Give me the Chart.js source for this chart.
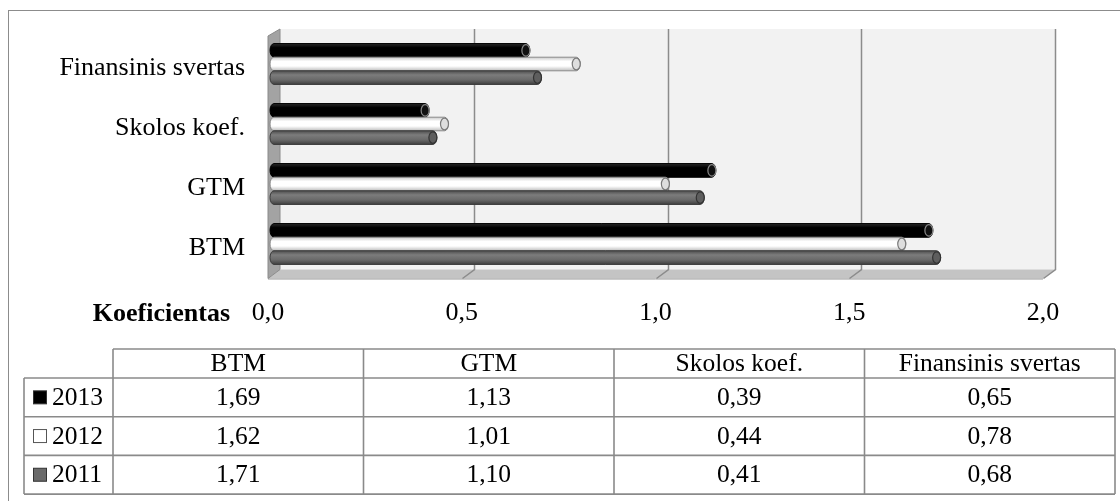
<!DOCTYPE html>
<html>
<head>
<meta charset="utf-8">
<script src="https://cdn.jsdelivr.net/npm/chart.js@4.4.1/dist/chart.umd.min.js"></script>
<style>
  html, body { margin: 0; padding: 0; background: #ffffff; overflow: hidden; }
  canvas { display: block; }
</style>
</head>
<body>
<canvas id="chart" width="1120" height="501"></canvas>
<script>
// Categories (table column order) and yearly series
const categories = ['BTM', 'GTM', 'Skolos koef.', 'Finansinis svertas'];
const years = ['2013', '2012', '2011'];
const values2013 = [1.69, 1.13, 0.39, 0.65];
const values2012 = [1.62, 1.01, 0.44, 0.78];
const values2011 = [1.71, 1.10, 0.41, 0.68];
const xTicks = [0, 0.5, 1.0, 1.5, 2.0];
const axisTitle = 'Koeficientas';

const FONT = '"Liberation Serif", "Times New Roman", serif';
const fmtValue = v => v.toFixed(2).replace('.', ',');
const fmtTick = v => v.toFixed(1).replace('.', ',');

// Cylinder shading per series: black, white, grey
const seriesStyle = [
  { base: '#000000', stops: ['#2a2a2a', '#000000', '#000000', '#000000'], edge: '#000000', cap: '#111111', capEdge: '#8a8a8a' },
  { base: '#ffffff', stops: ['#c8c8c8', '#ffffff', '#ffffff', '#bdbdbd'], edge: '#8a8a8a', cap: '#dedede', capEdge: '#7a7a7a' },
  { base: '#6a6a6a', stops: ['#4e4e4e', '#7c7c7c', '#6a6a6a', '#404040'], edge: '#3a3a3a', cap: '#5e5e5e', capEdge: '#333333' }
];
const seriesValues = [values2013, values2012, values2011];

// Depth offsets of the pseudo-3D box around the bar plane
const DX = 6, DY = 4.5;

const roomPlugin = {
  id: 'room',
  beforeDatasetsDraw(chart) {
    const { ctx, chartArea } = chart;
    const xs = chart.scales.x;
    const backX = v => xs.getPixelForValue(v) + DX;
    const wallTop = chartArea.top - 5;
    const backBottom = chartArea.bottom - DY;
    const frontBottom = chartArea.bottom + DY;
    const x0 = backX(xTicks[0]);
    const x1 = backX(xTicks[xTicks.length - 1]);
    ctx.save();
    // back wall
    ctx.fillStyle = '#f2f2f2';
    ctx.fillRect(x0, wallTop, x1 - x0, backBottom - wallTop);
    // floor
    ctx.beginPath();
    ctx.moveTo(x0 - 2 * DX, frontBottom);
    ctx.lineTo(x0, backBottom);
    ctx.lineTo(x1, backBottom);
    ctx.lineTo(x1 - 2 * DX, frontBottom);
    ctx.closePath();
    ctx.fillStyle = '#c4c4c4';
    ctx.fill();
    ctx.strokeStyle = '#9a9a9a';
    ctx.lineWidth = 1;
    ctx.beginPath();
    ctx.moveTo(x0 - 2 * DX, frontBottom + 0.5);
    ctx.lineTo(x1 - 2 * DX, frontBottom + 0.5);
    ctx.stroke();
    // gridlines on back wall and floor
    ctx.strokeStyle = '#8c8c8c';
    ctx.lineWidth = 1.5;
    xTicks.slice(1).forEach(v => {
      const gx = Math.round(backX(v)) + 0.5;
      ctx.beginPath();
      ctx.moveTo(gx, wallTop);
      ctx.lineTo(gx, backBottom);
      ctx.lineTo(gx - 2 * DX, frontBottom);
      ctx.stroke();
    });
    // left side wall
    ctx.beginPath();
    ctx.moveTo(x0 - 2 * DX, wallTop + 2 * DY - 2);
    ctx.lineTo(x0, wallTop);
    ctx.lineTo(x0, backBottom);
    ctx.lineTo(x0 - 2 * DX, frontBottom);
    ctx.closePath();
    ctx.fillStyle = '#a3a3a3';
    ctx.fill();
    ctx.strokeStyle = '#8a8a8a';
    ctx.lineWidth = 1;
    ctx.stroke();
    ctx.restore();
  },
  afterDatasetsDraw(chart) {
    const { ctx } = chart;
    ctx.save();
    chart.data.datasets.forEach((ds, di) => {
      const s = seriesStyle[di];
      chart.getDatasetMeta(di).data.forEach(el => {
        const { x, y, base, height } = el.getProps(['x', 'y', 'base', 'height'], true);
        const r = height / 2;
        const rx = 4;
        const g = ctx.createLinearGradient(0, y - r, 0, y + r);
        g.addColorStop(0, s.stops[0]);
        g.addColorStop(0.3, s.stops[1]);
        g.addColorStop(0.65, s.stops[2]);
        g.addColorStop(1, s.stops[3]);
        ctx.beginPath();
        ctx.moveTo(base, y - r);
        ctx.lineTo(x, y - r);
        ctx.ellipse(x, y, rx, r, 0, -Math.PI / 2, Math.PI / 2);
        ctx.lineTo(base, y + r);
        ctx.ellipse(base, y, rx, r, 0, Math.PI / 2, Math.PI * 1.5);
        ctx.closePath();
        ctx.fillStyle = g;
        ctx.fill();
        ctx.strokeStyle = s.edge;
        ctx.lineWidth = 1;
        ctx.stroke();
        // end cap
        ctx.beginPath();
        ctx.ellipse(x, y, rx, r - 1, 0, 0, Math.PI * 2);
        ctx.fillStyle = s.cap;
        ctx.fill();
        ctx.strokeStyle = s.capEdge;
        ctx.lineWidth = 1.2;
        ctx.stroke();
      });
    });
    ctx.restore();
  }
};

const tablePlugin = {
  id: 'dataTable',
  afterDraw(chart) {
    const { ctx } = chart;
    const xs = chart.scales.x;
    ctx.save();
    // outer frame
    ctx.strokeStyle = '#8c8c8c';
    ctx.lineWidth = 1;
    ctx.strokeRect(8.5, 10.5, 1200, 600);

    // axis title next to the first tick label
    ctx.fillStyle = '#000000';
    ctx.font = 'bold 26px ' + FONT;
    ctx.textAlign = 'right';
    ctx.textBaseline = 'middle';
    ctx.fillText(axisTitle, xs.getPixelForValue(0) - 44, 314);

    // data table
    const left = 24, keyCol = 113, right = 1115;
    const headTop = 349, headBottom = 378, rowH = 38.7;
    const colW = (right - keyCol) / categories.length;
    const bottom = headBottom + rowH * years.length;
    ctx.strokeStyle = '#8a8a8a';
    ctx.lineWidth = 1.6;
    ctx.beginPath();
    ctx.moveTo(keyCol, headTop); ctx.lineTo(right, headTop);
    for (let r = 0; r <= years.length; r++) {
      const yy = headBottom + rowH * r;
      ctx.moveTo(left, yy); ctx.lineTo(right, yy);
    }
    ctx.moveTo(left, headBottom); ctx.lineTo(left, bottom);
    for (let c = 0; c <= categories.length; c++) {
      const xx = keyCol + colW * c;
      ctx.moveTo(xx, headTop); ctx.lineTo(xx, bottom);
    }
    ctx.stroke();

    ctx.font = '25.5px ' + FONT;
    ctx.textAlign = 'center';
    ctx.textBaseline = 'middle';
    ctx.fillStyle = '#000000';
    categories.forEach((c, i) => {
      ctx.fillText(c, keyCol + colW * (i + 0.5), (headTop + headBottom) / 2 + 1);
    });
    years.forEach((yr, r) => {
      const cy = headBottom + rowH * (r + 0.5) + 1;
      const s = seriesStyle[r];
      // legend key
      ctx.fillStyle = s.base;
      ctx.fillRect(33.5, cy - 7.5, 13, 13);
      ctx.strokeStyle = r === 1 ? '#555555' : '#333333';
      ctx.lineWidth = 1;
      ctx.strokeRect(33.5, cy - 7.5, 13, 13);
      ctx.fillStyle = '#000000';
      ctx.textAlign = 'left';
      ctx.fillText(yr, 52, cy);
      ctx.textAlign = 'center';
      seriesValues[r].forEach((v, i) => {
        ctx.fillText(fmtValue(v), keyCol + colW * (i + 0.5), cy);
      });
    });
    ctx.restore();
  }
};

new Chart(document.getElementById('chart'), {
  type: 'bar',
  data: {
    labels: categories,
    datasets: years.map((yr, i) => ({
      label: yr,
      data: seriesValues[i],
      backgroundColor: seriesStyle[i].base,
      borderWidth: 0,
      categoryPercentage: 0.68,
      barPercentage: 1.0
    }))
  },
  options: {
    indexAxis: 'y',
    responsive: false,
    animation: false,
    events: [],
    layout: { padding: { top: 34, right: 71, bottom: 0, left: 0 } },
    plugins: { legend: { display: false }, tooltip: { enabled: false } },
    scales: {
      x: {
        position: 'bottom',
        min: 0,
        max: 2,
        afterBuildTicks: scale => { scale.ticks = xTicks.map(v => ({ value: v })); },
        afterFit: scale => { scale.height = 227; scale.paddingLeft = 0; scale.paddingRight = 0; },
        grid: { display: false, drawTicks: false },
        border: { display: false },
        ticks: {
          callback: v => fmtTick(v),
          font: { family: FONT, size: 26 },
          color: '#000000',
          padding: 24,
          labelOffset: -6,
          maxRotation: 0
        }
      },
      y: {
        reverse: true,
        afterFit: scale => { scale.width = 274; scale.paddingTop = 0; scale.paddingBottom = 0; },
        grid: { display: false, drawTicks: false },
        border: { display: false },
        ticks: {
          font: { family: FONT, size: 26 },
          color: '#000000',
          padding: 29,
          labelOffset: 4.5
        }
      }
    }
  },
  plugins: [roomPlugin, tablePlugin]
});
</script>
</body>
</html>
